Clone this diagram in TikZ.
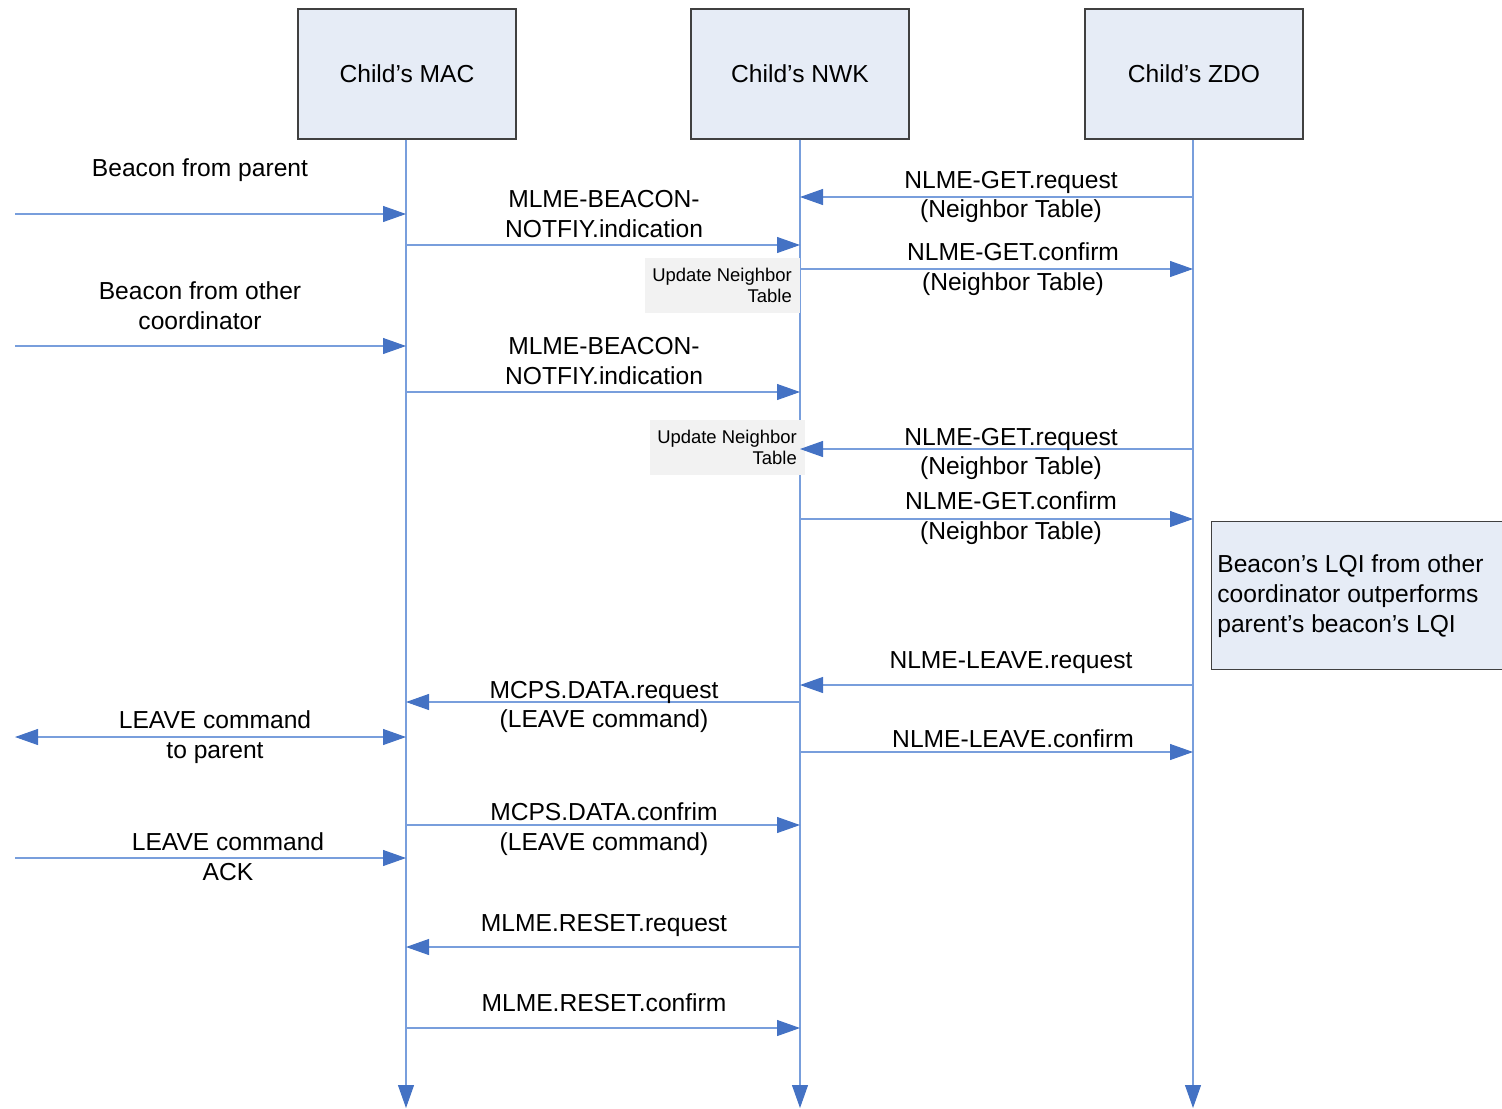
\documentclass[tikz,border=0pt]{standalone}
\usepackage{fontspec}
\setmainfont{Liberation Sans}
\usetikzlibrary{arrows.meta}

\definecolor{lineblue}{RGB}{120,158,220}
\definecolor{tipblue}{RGB}{68,114,196}
\definecolor{headfill}{RGB}{230,236,246}
\definecolor{updfill}{RGB}{242,242,242}

\tikzset{
  header/.style={draw=black!75, fill=headfill, line width=0.6pt,
    minimum width=43.6mm, minimum height=26mm, font=\fontsize{14}{17}\selectfont},
  life/.style={draw=lineblue, line width=0.6pt,
    -{Triangle[length=4.6mm,width=3.2mm,color=tipblue]}},
  msg/.style={draw=lineblue, line width=0.6pt,
    -{Triangle[length=4.6mm,width=3.2mm,color=tipblue]}},
  msgboth/.style={draw=lineblue, line width=0.6pt,
    {Triangle[length=4.6mm,width=3.2mm,color=tipblue]}-{Triangle[length=4.6mm,width=3.2mm,color=tipblue]}},
  lbl/.style={align=center, inner sep=0pt, font=\fontsize{14}{17}\selectfont},
  upd/.style={fill=updfill, align=right, inner sep=1mm, minimum width=31mm,
    minimum height=11mm, font=\fontsize{10.5}{12}\selectfont},
}

\begin{document}
\begin{tikzpicture}[x=0.2mm, y=-0.2mm]

  \useasboundingbox (0,0) rectangle (1502,1108);
  \clip (0,0) rectangle (1502,1108);

  % --- Define header nodes ---
  \node[header] (mac) at (407,74) {Child’s MAC};
  \node[header] (nwk) at (800,74) {Child’s NWK};
  \node[header] (zdo) at (1194,74) {Child’s ZDO};

  % --- Lifelines ---
  \coordinate (macEnd) at (406,1108);
  \coordinate (nwkEnd) at (800,1108);
  \coordinate (zdoEnd) at (1193,1108);
  \coordinate (ext) at (15,0);

  \draw[life] (mac.south -| macEnd) -- (macEnd);
  \draw[life] (nwk.south -| nwkEnd) -- (nwkEnd);
  \draw[life] (zdo.south -| zdoEnd) -- (zdoEnd);

  % --- Note on the right ---
  \node[draw=black!75, fill=headfill, line width=0.6pt, minimum width=58.6mm,
    minimum height=29.6mm, anchor=north west] (lqi) at (1211,521) {};
  \node[lbl, align=left, anchor=west] (lqiText) at (1217,596)
    {Beacon’s LQI from other\\coordinator outperforms\\parent’s beacon’s LQI};

  % --- Update boxes ---
  \node[upd] (upd1) at (722,285) {Update Neighbor\\Table};
  \node[upd] (upd2) at (727,447) {Update Neighbor\\Table};

  % --- Beacon from parent ---
  \draw[msg] (ext |- 0,214) -- (macEnd |- 0,214);
  \node[lbl] (bp) at (200,170) {Beacon from parent};

  \draw[msg] (macEnd |- 0,245) -- (nwkEnd |- 0,245);
  \node[lbl] (bn1) at (604,214) {MLME-BEACON-\\NOTFIY.indication};

  \draw[msg] (zdoEnd |- 0,197) -- (nwkEnd |- 0,197);
  \node[lbl] (gr1) at (1011,197) {NLME-GET.request\\(Neighbor Table)};

  \draw[msg] (nwkEnd |- 0,269) -- (zdoEnd |- 0,269);
  \node[lbl] (gc1) at (1013,269) {NLME-GET.confirm\\(Neighbor Table)};

  % --- Beacon from other coordinator ---
  \draw[msg] (ext |- 0,346) -- (macEnd |- 0,346);
  \node[lbl] (bo) at (200,306) {Beacon from other\\coordinator};

  \draw[msg] (macEnd |- 0,392) -- (nwkEnd |- 0,392);
  \node[lbl] (bn2) at (604,361) {MLME-BEACON-\\NOTFIY.indication};

  \draw[msg] (zdoEnd |- 0,449) -- (nwkEnd |- 0,449);
  \node[lbl] (gr2) at (1011,454) {NLME-GET.request\\(Neighbor Table)};

  \draw[msg] (nwkEnd |- 0,519) -- (zdoEnd |- 0,519);
  \node[lbl] (gc2) at (1011,518) {NLME-GET.confirm\\(Neighbor Table)};

  % --- Leave ---
  \draw[msg] (zdoEnd |- 0,685) -- (nwkEnd |- 0,685);
  \node[lbl] (lr) at (1011,663) {NLME-LEAVE.request};

  \draw[msg] (nwkEnd |- 0,702) -- (macEnd |- 0,702);
  \node[lbl] (dr) at (604,707) {MCPS.DATA.request\\(LEAVE command)};

  \draw[msgboth] (ext |- 0,737) -- (macEnd |- 0,737);
  \node[lbl] (lp) at (215,737) {LEAVE command\\to parent};

  \draw[msg] (nwkEnd |- 0,752) -- (zdoEnd |- 0,752);
  \node[lbl] (lc) at (1013,739) {NLME-LEAVE.confirm};

  \draw[msg] (macEnd |- 0,825) -- (nwkEnd |- 0,825);
  \node[lbl] (dc) at (604,829) {MCPS.DATA.confrim\\(LEAVE command)};

  \draw[msg] (ext |- 0,858) -- (macEnd |- 0,858);
  \node[lbl] (ack) at (228,857) {LEAVE command\\ACK};

  % --- Reset ---
  \draw[msg] (nwkEnd |- 0,947) -- (macEnd |- 0,947);
  \node[lbl] (rr) at (604,925) {MLME.RESET.request};

  \draw[msg] (macEnd |- 0,1028) -- (nwkEnd |- 0,1028);
  \node[lbl] (rc) at (604,1003) {MLME.RESET.confirm};

\end{tikzpicture}
\end{document}
